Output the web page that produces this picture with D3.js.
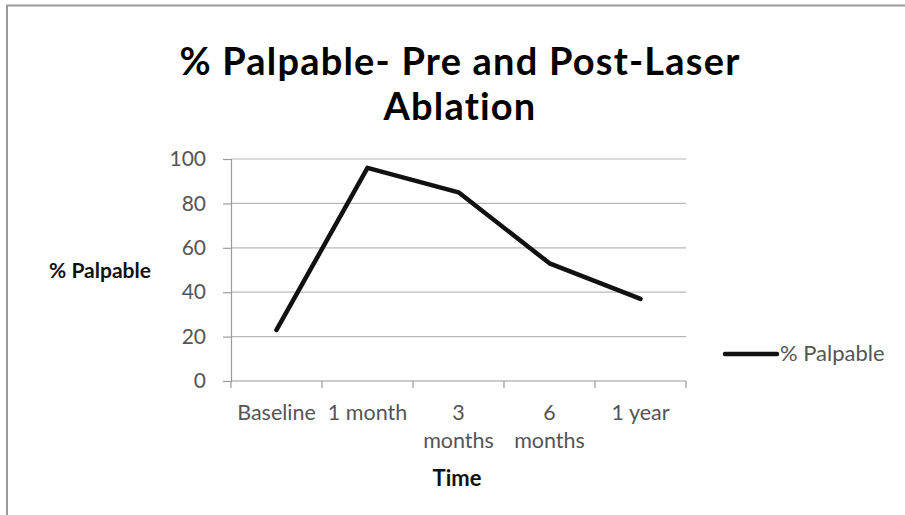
<!DOCTYPE html>
<html>
<head>
<meta charset="utf-8">
<script src="https://cdn.jsdelivr.net/npm/d3@7/dist/d3.min.js"></script>
<style>
  html, body { margin: 0; padding: 0; background: #fff; }
  svg { display: block; }
  text { font-family: Lato, "Open Sans", sans-serif; }
</style>
</head>
<body>
<svg id="chart" width="905" height="515"></svg>
<script>
// Share of palpable nodules at each follow-up visit
const categories = [["Baseline"], ["1 month"], ["3", "months"], ["6", "months"], ["1 year"]];
const palpable = [23, 96, 85, 53, 37];
const yTicks = [0, 20, 40, 60, 80, 100];
const seriesName = "% Palpable";
const titleLines = ["% Palpable- Pre and Post-Laser", "Ablation"];
const xTitle = "Time";
const yTitle = "% Palpable";

const svg = d3.select("#chart");
const W = 905, H = 515;
const plot = { left: 231, right: 686, top: 159, bottom: 381 };

// chart frame
svg.append("path")
  .attr("d", `M7,${H} V5.5 H${W}`)
  .attr("fill", "none")
  .attr("stroke", "#9a9a9a")
  .attr("stroke-width", 2);

const x = d3.scaleBand()
  .domain(categories.map((c, i) => i))
  .range([plot.left, plot.right]);

const y = d3.scaleLinear()
  .domain([0, 100])
  .range([plot.bottom, plot.top]);

// horizontal gridlines
svg.append("g")
  .selectAll("line")
  .data(yTicks.filter(t => t > 0))
  .join("line")
  .attr("x1", plot.left).attr("x2", plot.right)
  .attr("y1", d => y(d)).attr("y2", d => y(d))
  .attr("stroke", "#b8b8b8")
  .attr("stroke-width", 1.2);

// y axis
const yAxis = svg.append("g")
  .attr("transform", `translate(${plot.left},0)`)
  .call(d3.axisLeft(y).tickValues(yTicks).tickSize(8).tickPadding(17));
yAxis.select(".domain").attr("stroke", "#9a9a9a").attr("stroke-width", 1.2);
yAxis.selectAll(".tick line").attr("stroke", "#9a9a9a").attr("stroke-width", 1.2);
yAxis.selectAll(".tick text")
  .attr("fill", "#555")
  .style("font-size", "21px")
  .style("font-family", "Lato, sans-serif");

// x axis with tick marks on category boundaries
const boundaries = categories.map((c, i) => x(i)).concat([plot.right]);
svg.append("line")
  .attr("x1", plot.left).attr("x2", plot.right)
  .attr("y1", plot.bottom).attr("y2", plot.bottom)
  .attr("stroke", "#9a9a9a").attr("stroke-width", 1.2);
svg.append("g").selectAll("line")
  .data(boundaries)
  .join("line")
  .attr("x1", d => d).attr("x2", d => d)
  .attr("y1", plot.bottom).attr("y2", plot.bottom + 7)
  .attr("stroke", "#9a9a9a").attr("stroke-width", 1.2);

// category labels (some wrap onto two lines)
const xl = svg.append("g").selectAll("text")
  .data(categories)
  .join("text")
  .attr("text-anchor", "middle")
  .attr("fill", "#555")
  .style("font-size", "21.5px")
  .attr("transform", (d, i) => `translate(${x(i) + x.bandwidth() / 2},420)`);
xl.selectAll("tspan")
  .data(d => d)
  .join("tspan")
  .attr("x", 0)
  .attr("dy", (d, i) => i === 0 ? 0 : 28)
  .text(d => d);

// data line
const line = d3.line()
  .x((d, i) => x(i) + x.bandwidth() / 2)
  .y(d => y(d));
svg.append("path")
  .datum(palpable)
  .attr("d", line)
  .attr("fill", "none")
  .attr("stroke", "#111")
  .attr("stroke-width", 4.5)
  .attr("stroke-linejoin", "round")
  .attr("stroke-linecap", "round");

// title, two lines
svg.append("g").selectAll("text")
  .data(titleLines)
  .join("text")
  .attr("x", 460)
  .attr("y", (d, i) => 75 + i * 45)
  .attr("text-anchor", "middle")
  .attr("fill", "#000")
  .style("font-size", "38px")
  .style("letter-spacing", "1.2px")
  .style("font-weight", "700")
  .text(d => d);

// axis titles
svg.append("text")
  .attr("x", 100).attr("y", 278)
  .attr("text-anchor", "middle")
  .attr("fill", "#111")
  .style("font-size", "21px")
  .style("font-weight", "700")
  .text(yTitle);

svg.append("text")
  .attr("x", 457).attr("y", 486)
  .attr("text-anchor", "middle")
  .attr("fill", "#111")
  .style("font-size", "22px")
  .style("font-weight", "700")
  .text(xTitle);

// legend
const lg = svg.append("g").attr("transform", "translate(725,354)");
lg.append("line")
  .attr("x1", 0).attr("x2", 52)
  .attr("y1", 0).attr("y2", 0)
  .attr("stroke", "#111").attr("stroke-width", 4.5)
  .attr("stroke-linecap", "round");
lg.append("text")
  .attr("x", 55).attr("y", 7)
  .attr("fill", "#555")
  .style("font-size", "22px")
  .text(seriesName);
</script>
</body>
</html>
